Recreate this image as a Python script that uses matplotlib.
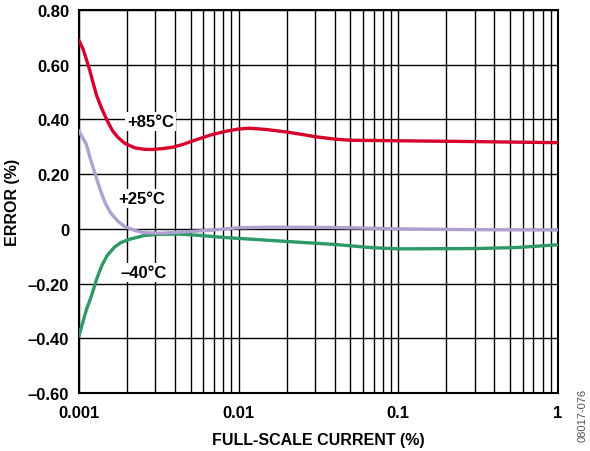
import matplotlib
matplotlib.use("Agg")
import matplotlib.pyplot as plt
from matplotlib.ticker import FixedLocator, LogLocator, NullFormatter

plt.rcParams['font.family'] = ['Liberation Sans', 'DejaVu Sans']

# ---- data ----
x_85 = [0.001, 0.00106, 0.00111, 0.00117, 0.00123, 0.00129, 0.00139, 0.00150,
        0.00162, 0.00175, 0.00193, 0.00224, 0.00255, 0.00284, 0.00330, 0.00383,
        0.00450, 0.00518, 0.00600, 0.00666, 0.00835, 0.0100, 0.0117, 0.0150,
        0.020, 0.025, 0.030, 0.040, 0.050, 0.100, 0.300, 1.0]
y_85 = [0.688, 0.658, 0.621, 0.578, 0.530, 0.487, 0.439, 0.396,
        0.359, 0.335, 0.313, 0.296, 0.291, 0.290, 0.293, 0.298,
        0.309, 0.322, 0.334, 0.343, 0.357, 0.365, 0.368, 0.363,
        0.354, 0.345, 0.337, 0.328, 0.324, 0.322, 0.319, 0.315]

x_25 = [0.001, 0.00111, 0.00117, 0.00126, 0.00136, 0.00146, 0.00158, 0.00175,
        0.00193, 0.00224, 0.00257, 0.00330, 0.00424, 0.00634, 0.0100, 0.0150,
        0.0200, 0.0400, 0.100, 0.300, 1.0]
y_25 = [0.357, 0.310, 0.262, 0.202, 0.142, 0.094, 0.058, 0.028,
        0.009, -0.006, -0.014, -0.016, -0.012, -0.006, 0.004, 0.006,
        0.006, 0.005, 0.000, -0.003, -0.004]

x_m40 = [0.001, 0.00106, 0.00111, 0.00120, 0.00129, 0.00139, 0.00150, 0.00166,
         0.00183, 0.00213, 0.00236, 0.00257, 0.00314, 0.00424, 0.00573, 0.00835,
         0.0200, 0.0400, 0.0692, 0.100, 0.311, 0.566, 1.0]
y_m40 = [-0.390, -0.339, -0.297, -0.243, -0.183, -0.134, -0.098, -0.068,
         -0.050, -0.036, -0.030, -0.024, -0.020, -0.019, -0.024, -0.032,
         -0.046, -0.057, -0.069, -0.073, -0.072, -0.068, -0.058]

y_ticks = [-0.6, -0.4, -0.2, 0.0, 0.2, 0.4, 0.6, 0.8]
y_ticklabels = ['–0.60', '–0.40', '–0.20', '0', '0.20', '0.40', '0.60', '0.80']
x_ticks = [0.001, 0.01, 0.1, 1]
x_ticklabels = ['0.001', '0.01', '0.1', '1']

labels = ['+85°C', '+25°C', '–40°C']
label_x = [0.00280, 0.00246, 0.00254]
label_y = [0.392, 0.110, -0.158]

c_85 = '#D6002B'
c_25 = '#AFA0D0'
c_m40 = '#2E9966'

# ---- figure ----
fig = plt.figure(figsize=(5.9, 4.52), dpi=100)
ax = fig.add_axes([79/590, 1 - 394/452, (558 - 79)/590, (394 - 11)/452])

ax.set_xscale('log')
ax.set_xlim(0.001, 1)
ax.set_ylim(-0.6, 0.8)

ax.plot(x_85, y_85, color=c_85, lw=2.4, zorder=3, solid_joinstyle='round')
ax.plot(x_m40, y_m40, color=c_m40, lw=2.4, zorder=3, solid_joinstyle='round')
ax.plot(x_25, y_25, color=c_25, lw=2.4, zorder=3.1, solid_joinstyle='round')

for t, xx, yy in zip(labels, label_x, label_y):
    ax.text(xx, yy, t, ha='center', va='center', fontsize=12, fontweight='bold',
            zorder=4, bbox=dict(facecolor='white', edgecolor='none', pad=1.5))

ax.xaxis.set_major_locator(FixedLocator(x_ticks))
ax.set_xticklabels(x_ticklabels)
ax.xaxis.set_minor_locator(LogLocator(base=10, subs=range(2, 10)))
ax.xaxis.set_minor_formatter(NullFormatter())
ax.set_yticks(y_ticks)
ax.set_yticklabels(y_ticklabels)

ax.grid(which='both', axis='x', color='black', lw=1.0, zorder=1)
ax.grid(which='major', axis='y', color='black', lw=1.0, zorder=1)
ax.set_axisbelow(True)

ax.tick_params(which='both', length=0)
ax.tick_params(axis='y', pad=7, labelsize=12)
ax.tick_params(axis='x', pad=9, labelsize=12)
for lab in ax.get_xticklabels() + ax.get_yticklabels():
    lab.set_fontweight('bold')

for s in ax.spines.values():
    s.set_linewidth(1.5)
    s.set_color('black')

ax.set_xlabel('FULL-SCALE CURRENT (%)', fontsize=11.5, fontweight='bold', labelpad=8)
ax.set_ylabel('ERROR (%)', fontsize=11.5, fontweight='bold', labelpad=6)

fig.text(583/590, 1 - 415/452, '08017-076', rotation=90, ha='center', va='center',
         fontsize=8, color='#555555')

fig.savefig('out.png', dpi=100)
